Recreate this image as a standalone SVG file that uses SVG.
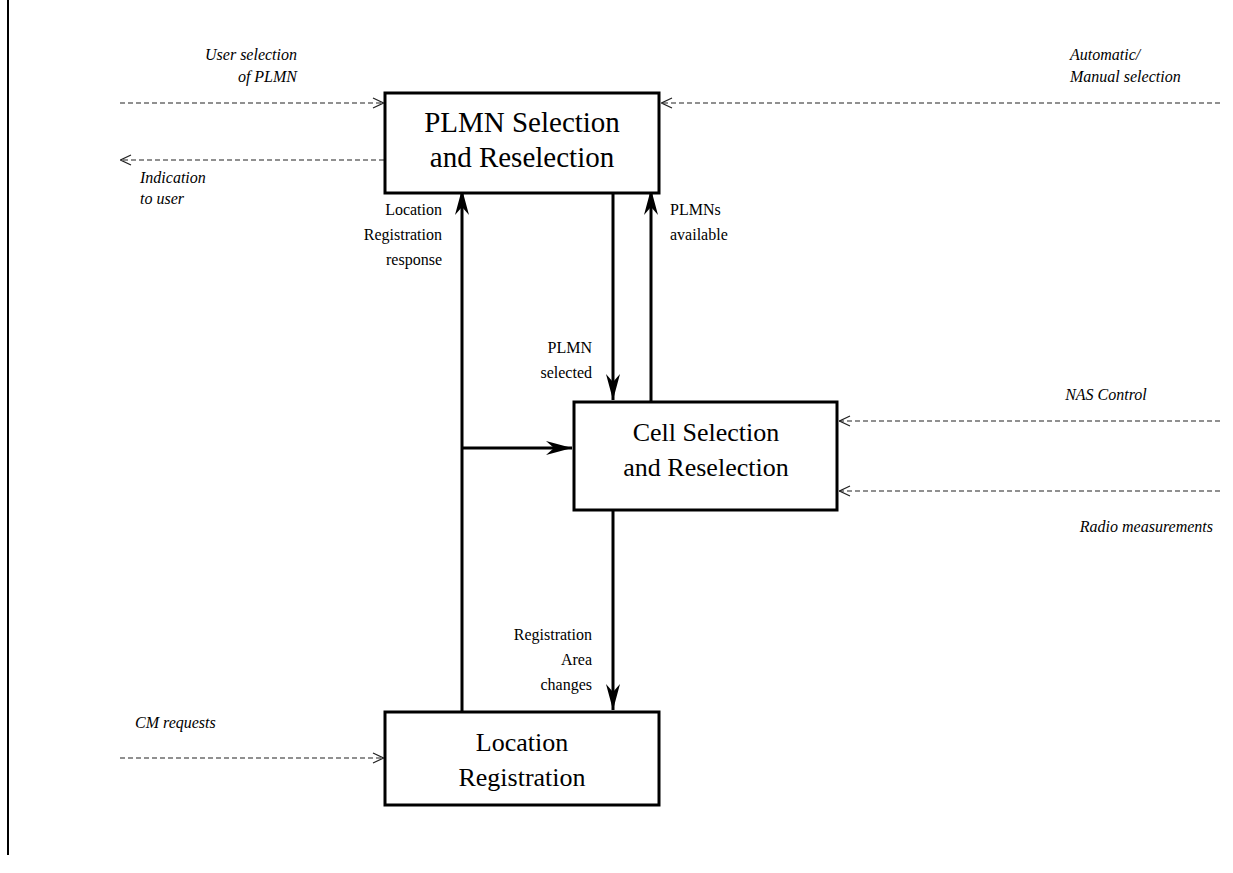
<svg xmlns="http://www.w3.org/2000/svg" width="1233" height="873" viewBox="0 0 1233 873">
<style>
.box{fill:#fff;stroke:#000;stroke-width:3}
.bt{font-family:'Liberation Serif','Times New Roman',Times,'DejaVu Serif',serif;font-size:26px;text-anchor:middle;fill:#000}
.bt2{font-size:29px}
.lb{font-family:'Liberation Serif','Times New Roman',Times,'DejaVu Serif',serif;font-size:16px;fill:#000}
.it{font-family:'Liberation Serif','Times New Roman',Times,'DejaVu Serif',serif;font-size:16px;font-style:italic;fill:#000}
.solid{stroke:#000;stroke-width:3;fill:none}
.dash{stroke:#222;stroke-width:1.2;stroke-dasharray:5 3;fill:none}
</style>
<defs>
<marker id="ah" markerUnits="userSpaceOnUse" viewBox="0 0 26 14" refX="26" refY="7" markerWidth="26" markerHeight="14" orient="auto">
<path d="M0,0 L26,7 L0,14 L8,7 z" fill="#000"/>
</marker>
<marker id="oa" markerUnits="userSpaceOnUse" viewBox="0 0 12 12" refX="12" refY="6" markerWidth="12" markerHeight="12" orient="auto">
<path d="M1,1 L11.5,6 L1,11" fill="none" stroke="#222" stroke-width="1.2"/>
</marker>
</defs>
<rect width="1233" height="873" fill="#fff"/>
<line x1="8" y1="0" x2="8" y2="855" stroke="#000" stroke-width="2"/>
<g id="connectors">
<path class="solid" d="M462,712 V189" marker-end="url(#ah)"/>
<path class="solid" d="M462,448 H572" marker-end="url(#ah)"/>
<path class="solid" d="M613,193 V400" marker-end="url(#ah)"/>
<path class="solid" d="M651,402 V189" marker-end="url(#ah)"/>
<path class="solid" d="M613,510 V710" marker-end="url(#ah)"/>
<path class="dash" d="M120,103 H384" marker-end="url(#oa)"/>
<path class="dash" d="M384,160 H120" marker-end="url(#oa)"/>
<path class="dash" d="M1220,103 H661" marker-end="url(#oa)"/>
<path class="dash" d="M1220,421 H839" marker-end="url(#oa)"/>
<path class="dash" d="M1220,491 H839" marker-end="url(#oa)"/>
<path class="dash" d="M120,758 H384" marker-end="url(#oa)"/>
<text class="lb" text-anchor="end" x="442" y="215">Location</text>
<text class="lb" text-anchor="end" x="442" y="240">Registration</text>
<text class="lb" text-anchor="end" x="442" y="265">response</text>
<text class="lb" x="670" y="215">PLMNs</text>
<text class="lb" x="670" y="240">available</text>
<text class="lb" text-anchor="end" x="592" y="353">PLMN</text>
<text class="lb" text-anchor="end" x="592" y="378">selected</text>
<text class="lb" text-anchor="end" x="592" y="640">Registration</text>
<text class="lb" text-anchor="end" x="592" y="665">Area</text>
<text class="lb" text-anchor="end" x="592" y="690">changes</text>
<text class="it" text-anchor="end" x="297" y="60">User selection</text>
<text class="it" text-anchor="end" x="297" y="82">of PLMN</text>
<text class="it" x="140" y="183">Indication</text>
<text class="it" x="140" y="204">to user</text>
<text class="it" x="1070" y="60">Automatic/</text>
<text class="it" x="1070" y="82">Manual selection</text>
<text class="it" text-anchor="middle" x="1106" y="400">NAS Control</text>
<text class="it" text-anchor="end" x="1213" y="532">Radio measurements</text>
<text class="it" x="135" y="728">CM requests</text>
</g>
<g id="plmn">
<rect class="box" x="385" y="93" width="274" height="100"/>
<text class="bt bt2" x="522" y="132">PLMN Selection</text>
<text class="bt bt2" x="522" y="167">and Reselection</text>
</g>
<g id="cell">
<rect class="box" x="574" y="402" width="263" height="108"/>
<text class="bt" x="706" y="441">Cell Selection</text>
<text class="bt" x="706" y="476">and Reselection</text>
</g>
<g id="locreg">
<rect class="box" x="385" y="712" width="274" height="93"/>
<text class="bt" x="522" y="751">Location</text>
<text class="bt" x="522" y="786">Registration</text>
</g>
</svg>
